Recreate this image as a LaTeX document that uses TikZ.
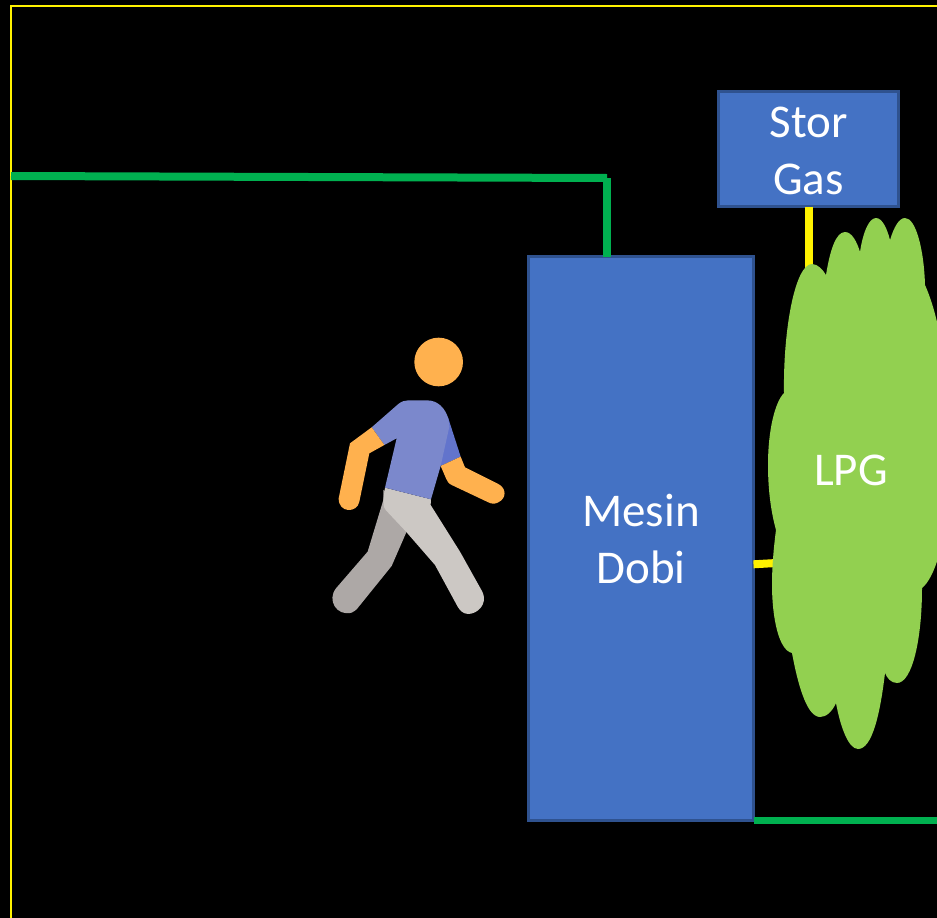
\documentclass[tikz,border=0pt]{standalone}
\usepackage{fontspec}
\setmainfont{Carlito}
\definecolor{boxblue}{HTML}{4472C4}
\definecolor{boxedge}{HTML}{2F528F}
\definecolor{wire}{HTML}{00B050}
\definecolor{leaf}{HTML}{92D050}
\definecolor{skin}{HTML}{FFB14E}
\definecolor{shirt}{HTML}{7B88CC}
\definecolor{shirtdark}{HTML}{6274CC}
\definecolor{legfront}{HTML}{CCC8C4}
\definecolor{legback}{HTML}{ADA8A6}
\tikzset{
  box/.style={draw=boxedge,line width=2.6pt,fill=boxblue,text=white,align=center,inner sep=0pt,outer sep=0pt,
    font=\fontsize{47}{57}\selectfont},
  greenwire/.style={draw=wire,line width=8pt},
  yellowwire/.style={draw=yellow,line width=8pt},
  frameline/.style={draw=yellow,line width=2.8pt},
  label/.style={text=white,align=center,font=\fontsize{47}{57}\selectfont,inner sep=0pt}
}
\begin{document}
\begin{tikzpicture}[x=1pt,y=-1pt]
\fill[black] (0,0) rectangle (937,918);
\clip (0,0) rectangle (937,918);
\useasboundingbox (0,0) rectangle (937,918);
\draw[frameline] (11,930) -- (11,6) -- (950,6);
\node[box,minimum width=180pt,minimum height=115pt] (stor) at (808.5,149) {};
\node[label] (storlabel) at (808.5,150.5) {Stor\\Gas};
\node[box,minimum width=225pt,minimum height=564pt] (mesin) at (641,538.5) {Mesin\\Dobi};
\coordinate (gasin) at (809,280);
\coordinate (gasout) at (785,562.5);
\coordinate (wirestart) at (11,176);
\coordinate (wirecorner) at (607,178);
\coordinate (wireend) at (950,821);
\draw[yellowwire] (stor.south -| gasin) -- (gasin);
\draw[yellowwire] (mesin.east |- 0,564.3) -- (gasout);
\draw[greenwire] (wirestart) -- (wirecorner);
\draw[greenwire] (wirecorner) -- (wirecorner |- mesin.north);
\draw[greenwire,line width=7pt] (mesin.south east) -- (wireend |- mesin.south east);
\fill[leaf] (784,393)
  .. controls (783,330) and (795,264) .. (812,264)
  .. controls (818,264) and (823,270) .. (826,275)
  .. controls (830,250) and (836,232) .. (845,232)
  .. controls (852,232) and (857,242) .. (860,252)
  .. controls (863,232) and (869,218) .. (876,218)
  .. controls (882,218) and (887,228) .. (890,240)
  .. controls (894,227) and (899,218) .. (905,218)
  .. controls (916,218) and (924,250) .. (925,285)
  .. controls (945,330) and (950,400) .. (950,500)
  .. controls (945,540) and (935,578) .. (922,588)
  .. controls (922,640) and (912,683) .. (897,683)
  .. controls (891,683) and (887,678) .. (885,673)
  .. controls (880,715) and (872,749) .. (858,749)
  .. controls (848,749) and (840,725) .. (836,703)
  .. controls (832,712) and (826,717) .. (820,717)
  .. controls (806,717) and (797,680) .. (792,653)
  .. controls (778,650) and (772,615) .. (772,585)
  .. controls (772,565) and (774,545) .. (776,530)
  .. controls (771,512) and (768,490) .. (768,465)
  .. controls (768,430) and (775,402) .. (784,393) -- cycle;
\node[label] (lpg) at (851,470) {LPG};
% walking figure, coordinates in a 3x grid
\begin{scope}[shift={(320,330)},x=0.3333pt,y=-0.3333pt]
  \fill[skin] (356,96) circle (73);
  \fill[shirtdark] (385,265) -- (422,380) -- (362,408) -- (340,340) -- cycle;
  \fill[skin] (362,408) -- (422,380) -- (435,412) -- (535,462)
     .. controls (560,475) and (560,505) .. (535,517)
     .. controls (525,523) and (515,522) .. (505,517)
     -- (395,465) .. controls (385,460) and (382,455) .. (378,445) -- cycle;
  \fill[legback] (190,480) -- (190,510) -- (143,665) -- (48,775)
     .. controls (20,810) and (50,860) .. (95,848)
     .. controls (100,846) and (105,842) .. (110,838)
     -- (215,708) -- (262,600) -- (230,500) -- cycle;
  \fill[legfront] (195,473) -- (333,508) -- (332,525) -- (420,665) -- (487,785)
     .. controls (505,825) and (470,852) .. (445,852)
     .. controls (430,852) and (420,842) .. (413,830)
     -- (345,705) -- (258,605) -- (197,540) .. controls (190,530) and (190,520) .. (190,510) -- cycle;
  \fill[shirt] (155,292) -- (235,222) .. controls (245,214) and (255,211) .. (265,211)
     -- (320,211) .. controls (355,211) and (375,235) .. (385,265)
     -- (388,290) -- (362,408) -- (333,508) -- (195,473) -- (230,325) -- (193,345) -- cycle;
  \fill[skin] (155,292) -- (193,345) -- (148,370) -- (118,515)
     .. controls (112,550) and (55,550) .. (56,505)
     -- (90,340) -- cycle;
\end{scope}
\end{tikzpicture}
\end{document}
